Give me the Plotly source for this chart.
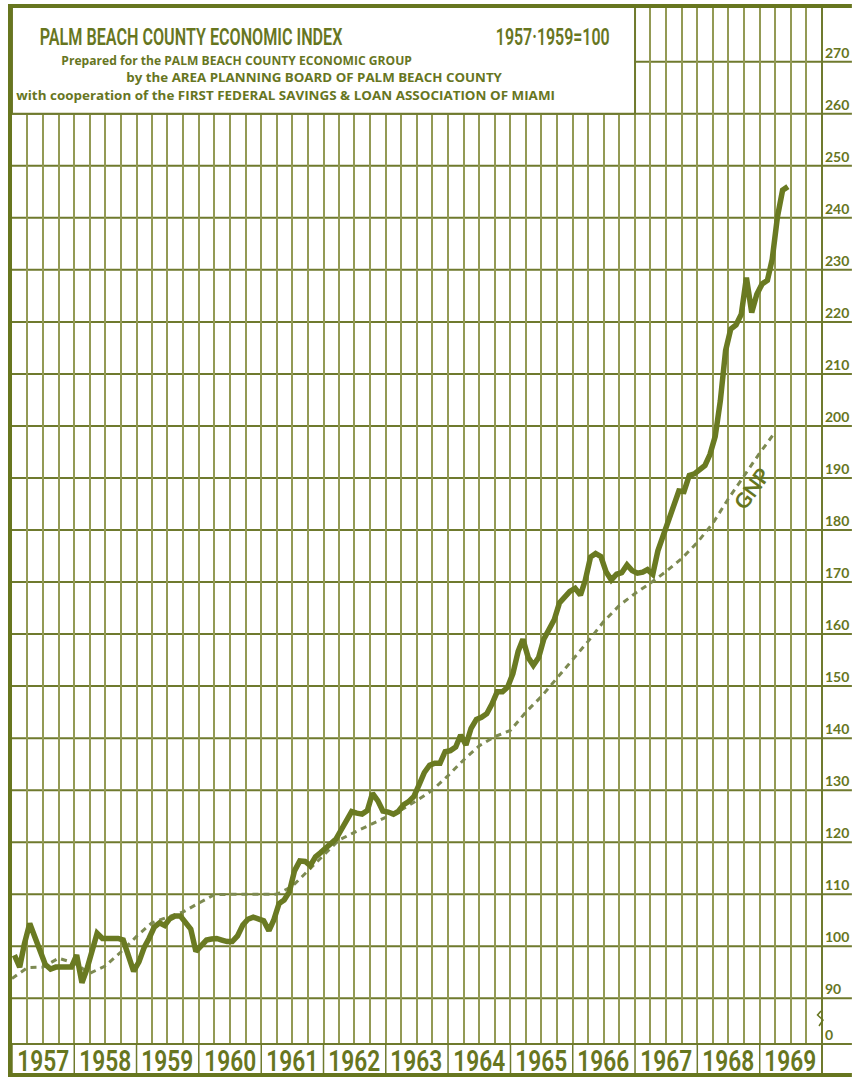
import json
import pandas as pd
import plotly.graph_objects as go

# Palm Beach County economic index, monthly from January 1957 (1957-1959 = 100)
index_start = "1957-01-01"
index_values = [
    98.3, 96.0, 100.5, 104.4, 101.8, 99.2, 96.5, 95.6, 96.0, 96.0,
    96.0, 96.0, 98.3, 93.0, 95.5, 99.5, 102.5, 101.5, 101.5, 101.5,
    101.5, 101.2, 98.5, 95.2, 97.0, 99.8, 101.5, 103.7, 104.5, 104.0,
    105.3, 105.8, 105.8, 104.4, 103.3, 99.0, 100.2, 101.2, 101.4, 101.5,
    101.2, 100.9, 100.9, 102.0, 104.1, 105.2, 105.6, 105.3, 104.9, 103.0,
    105.0, 108.2, 108.9, 110.5, 114.5, 116.4, 116.3, 115.5, 117.2, 118.0,
    118.8, 119.6, 120.6, 122.4, 124.4, 125.9, 125.6, 125.4, 126.1, 129.4,
    128.0, 126.0, 125.8, 125.4, 125.9, 127.2, 127.8, 128.8, 131.0, 133.4,
    134.8, 135.2, 135.2, 137.4, 137.6, 138.3, 140.6, 138.7, 141.9, 143.6,
    144.0, 144.7, 146.6, 148.9, 148.9, 149.8, 152.4, 156.7, 159.0, 155.5,
    154.0, 155.5, 159.0, 160.8, 162.8, 166.0, 167.0, 168.2, 168.8, 167.5,
    170.3, 174.8, 175.5, 174.9, 172.0, 170.4, 171.5, 171.8, 173.3, 172.2,
    171.7, 171.9, 172.4, 171.5, 176.0, 179.0, 181.4, 184.5, 187.5, 187.4,
    190.5, 190.8, 191.5, 192.4, 194.5, 198.0, 204.8, 214.5, 218.6, 219.4,
    221.5, 228.5, 221.8, 225.3, 227.3, 228.0, 232.0, 240.2, 245.3, 246.0,
]

# Gross national product, quarterly from 1957 Q1, same base
gnp_start = "1957-01-01"
gnp_values = [
    93.8, 95.9, 96.0, 97.7, 96.8, 94.8, 96.2, 98.9, 101.9, 104.5,
    105.6, 106.6, 108.3, 109.9, 110.0, 110.0, 110.0, 110.0, 111.5, 114.5,
    117.5, 120.4, 121.9, 123.3, 124.8, 126.2, 128.0, 130.0, 132.8, 135.8,
    138.5, 140.3, 141.5, 145.0, 148.0, 151.5, 155.0, 158.6, 162.4, 165.5,
    167.8, 169.8, 172.0, 174.5, 177.6, 181.3, 186.0, 190.4, 194.8, 198.8,
]

years = list(range(1957, 1970))
year_labels = [str(y) for y in years]
y_tick_values = list(range(90, 280, 10))
y_tick_labels = [str(v) for v in y_tick_values]
break_label = "0"

title_text = "PALM BEACH COUNTY ECONOMIC INDEX"
base_text = "1957·1959=100"
credit_lines = [
    "Prepared for the PALM BEACH COUNTY ECONOMIC GROUP",
    "by the AREA PLANNING BOARD OF PALM BEACH COUNTY",
    "with cooperation of the FIRST FEDERAL SAVINGS & LOAN ASSOCIATION OF MIAMI",
]
gnp_label = "GNP"

# ---- styling -------------------------------------------------------------
INK = "#67761f"
LINE = "#6a7a22"
DASH = "#7d8a52"
GRID_V = "#939a55"
GRID_H = "#6f7a2e"
GOTHIC = "Roboto, Liberation Sans, sans-serif"
BOLD = "Lato, Open Sans, sans-serif"
CREDIT = "Open Sans, Lato, sans-serif"

W, H = 855, 1080
ML, MR, MT, MB = 12, 30, 6, 36
Y_LO, Y_HI = 81.22, 280.71

index_dates = pd.date_range(index_start, periods=len(index_values), freq="MS") + pd.Timedelta(days=14)
gnp_dates = pd.date_range(gnp_start, periods=len(gnp_values), freq="QS")

fig = go.Figure()
fig.add_trace(go.Scatter(
    x=gnp_dates, y=gnp_values, mode="lines",
    line=dict(color=DASH, width=3, dash="6px,5px"),
    hoverinfo="skip", showlegend=False,
))
fig.add_trace(go.Scatter(
    x=index_dates, y=index_values, mode="lines",
    line=dict(color=LINE, width=5.5, shape="linear"),
    hoverinfo="skip", showlegend=False,
))

plot_w = W - ML - MR
plot_h = H - MT - MB


def px_x(p):
    return (p - ML) / plot_w


def px_y(p):
    return (H - MB - p) / plot_h


shapes = []
# horizontal rules, running on under the value labels at the right
for v in y_tick_values:
    shapes.append(dict(type="line", xref="paper", yref="y", x0=0, x1=px_x(W), y0=v, y1=v,
                       line=dict(color=GRID_H, width=2), layer="below"))
# right edge of the plotting field
shapes.append(dict(type="line", xref="paper", yref="paper", x0=1, x1=1, y0=px_y(H - 5), y1=1,
                   line=dict(color=GRID_H, width=2)))
# title panel
shapes.append(dict(type="rect", xref="x", yref="y", x0="1957-01-01", x1="1967-01-01",
                   y0=260, y1=Y_HI, fillcolor="white",
                   line=dict(color=GRID_H, width=2), layer="above"))
# year strip
shapes.append(dict(type="line", xref="paper", yref="paper", x0=0, x1=px_x(W), y0=0, y1=0,
                   line=dict(color=GRID_H, width=2)))
for y in years + [1970]:
    shapes.append(dict(type="line", xref="x", yref="paper", x0=f"{y}-01-01", x1=f"{y}-01-01",
                       y0=0, y1=px_y(H - 5), line=dict(color=GRID_H, width=1.5)))
# heavy outer frame
shapes.append(dict(type="line", xref="paper", yref="paper", x0=px_x(10), x1=px_x(10),
                   y0=px_y(H - 3), y1=px_y(4), line=dict(color=INK, width=4)))
shapes.append(dict(type="line", xref="paper", yref="paper", x0=px_x(8), x1=px_x(W),
                   y0=px_y(6), y1=px_y(6), line=dict(color=INK, width=4)))
shapes.append(dict(type="line", xref="paper", yref="paper", x0=px_x(8), x1=px_x(W),
                   y0=px_y(H - 5), y1=px_y(H - 5), line=dict(color=INK, width=4)))
# axis break mark above the zero label
zz = [(824, 1011), (820.5, 1015), (826, 1020), (822, 1026)]
path = "M " + " L ".join(f"{px_x(a):.5f},{px_y(b):.5f}" for a, b in zz)
shapes.append(dict(type="path", xref="paper", yref="paper", path=path,
                   line=dict(color=INK, width=1.5)))

annotations = []
annotations.append(dict(text=title_text, xref="paper", yref="paper", x=px_x(191.5), y=px_y(37),
                        xanchor="center", yanchor="middle", showarrow=False,
                        font=dict(family=GOTHIC, size=24, color=INK, weight=600)))
annotations.append(dict(text=base_text, xref="paper", yref="paper", x=px_x(555), y=px_y(37),
                        xanchor="center", yanchor="middle", showarrow=False,
                        font=dict(family=GOTHIC, size=24, color=INK, weight=600)))
for txt, cx, ly in zip(credit_lines, [237.5, 315.5, 286.5], [60, 77.5, 95]):
    annotations.append(dict(text=txt, xref="paper", yref="paper", x=px_x(cx), y=px_y(ly),
                            xanchor="center", yanchor="middle", showarrow=False,
                            font=dict(family=CREDIT, size=11.5, color=INK, weight="bold")))
for y, lab in zip(years, year_labels):
    annotations.append(dict(text=lab, xref="x", yref="paper", x=f"{y}-07-02", y=px_y(1060),
                            xanchor="center", yanchor="middle", showarrow=False,
                            font=dict(family=GOTHIC, size=30, color=INK, weight=600)))
annotations.append(dict(text=gnp_label, xref="x", yref="y", x="1968-11-10", y=188.0,
                        showarrow=False, textangle=-54,
                        font=dict(family=BOLD, size=21, color=INK, weight="bold")))

fig.update_layout(
    width=W, height=H,
    margin=dict(l=ML, r=MR, t=MT, b=MB, pad=0),
    paper_bgcolor="white", plot_bgcolor="white",
    showlegend=False,
    shapes=shapes, annotations=annotations,
    xaxis=dict(
        type="date", range=["1957-01-01", "1970-01-01"],
        tick0="1957-01-01", dtick="M3",
        showgrid=True, gridcolor=GRID_V, gridwidth=1.5,
        showticklabels=False, ticks="", zeroline=False, showline=False,
        fixedrange=True,
    ),
    yaxis=dict(
        range=[Y_LO, Y_HI], side="right",
        tickvals=[Y_LO] + y_tick_values, ticktext=[break_label] + y_tick_labels,
        ticks="", showgrid=False, zeroline=False, showline=False,
        ticklabelshift=-9, ticklabelstandoff=2,
        tickfont=dict(family=BOLD, size=14, color=INK, weight="bold"),
        fixedrange=True,
    ),
)

# The heading, credit lines and year strip follow the printed letter widths:
# fit those labels horizontally to their set widths (pixels).
fit_widths = {title_text: 303, base_text: 114}
fit_widths.update(dict(zip(credit_lines, [351, 377, 539])))
fit_widths.update({lab: 52 for lab in year_labels})
post_js = """
var gd = document.getElementById('{plot_id}');
var widths = %s;
function fitText() {
  gd.querySelectorAll('.annotation-text').forEach(function (t) {
    var target = widths[t.textContent];
    if (!target) return;
    t.style.transform = '';
    var w = t.getBBox().width;
    if (w > 0) {
      t.style.transformBox = 'fill-box';
      t.style.transformOrigin = '50%% 50%%';
      t.style.transform = 'scaleX(' + (target / w) + ')';
    }
  });
}
fitText();
gd.on('plotly_afterplot', fitText);
""" % json.dumps(fit_widths)

fig.write_html("out.html", post_script=post_js)
